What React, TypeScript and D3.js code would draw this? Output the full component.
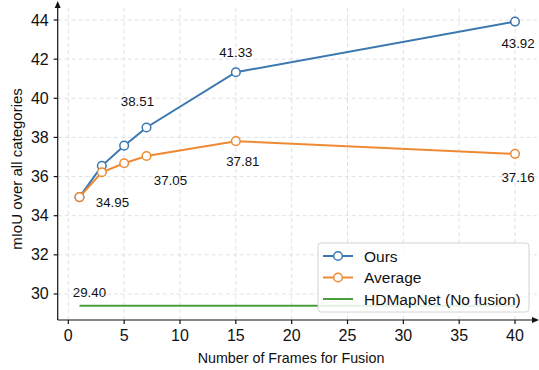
import React from 'react';
import * as d3 from 'd3';

const width = 539;
const height = 370;

// data
const frames = [1, 3, 5, 7, 15, 40];
const oursValues = [34.95, 36.55, 37.58, 38.51, 41.33, 43.92];
const averageValues = [34.95, 36.22, 36.68, 37.05, 37.81, 37.16];
const hdmapFrames = [1, 40];
const hdmapValue = 29.40;
const xTicks = [0, 5, 10, 15, 20, 25, 30, 35, 40];
const yTicks = [30, 32, 34, 36, 38, 40, 42, 44];
const seriesNames = ['Ours', 'Average', 'HDMapNet (No fusion)'];

// value labels: [x, y, dx, dy]
const annotations = [
  [15, 41.33, 0, -15],
  [7, 38.51, -9, -21],
  [7, 37.05, 24, 29],
  [15, 37.81, 7, 25],
  [1, 34.95, 33, 10],
  [1, 29.40, 10, -9],
  [40, 43.92, 3, 26],
  [40, 37.16, 3, 28],
];

const colors = ['#3b77b0', '#ee8a33', '#4a9e3c'];
const font = '"Liberation Sans", Arial, Helvetica, sans-serif';

export default function App() {
  const x = d3.scaleLinear().domain([-0.95, 41.95]).range([57.7, 536.8]);
  const y = d3.scaleLinear().domain([28.67, 44.65]).range([320, 7.3]);
  const x0 = x(-0.95);
  const y0 = y(28.67);

  const line = d3.line<[number, number]>().x(d => x(d[0])).y(d => y(d[1]));
  const ours = frames.map((f, i) => [f, oursValues[i]] as [number, number]);
  const avg = frames.map((f, i) => [f, averageValues[i]] as [number, number]);
  const hd = hdmapFrames.map(f => [f, hdmapValue] as [number, number]);

  const lg = { x: 318, y: 243, w: 211, h: 69 };

  return (
    <svg width={width} height={height} style={{ position: 'absolute', left: 0, top: 0 }} fontFamily={font}>
      <rect width={width} height={height} fill="#fff" />
      {/* grid */}
      <g stroke="#dde1e7" strokeWidth={1} strokeDasharray="4,3">
        {xTicks.map(t => (
          <line key={'gx' + t} x1={x(t)} x2={x(t)} y1={y0} y2={y(44.65)} />
        ))}
        {yTicks.map(t => (
          <line key={'gy' + t} x1={x0} x2={x(41.95)} y1={y(t)} y2={y(t)} />
        ))}
      </g>

      {/* series */}
      <path d={line(hd) || ''} fill="none" stroke={colors[2]} strokeWidth={2} />
      <path d={line(ours) || ''} fill="none" stroke={colors[0]} strokeWidth={2} />
      {ours.map((d, i) => (
        <circle key={'o' + i} cx={x(d[0])} cy={y(d[1])} r={4.3} fill="#fff" stroke={colors[0]} strokeWidth={1.5} />
      ))}
      <path d={line(avg) || ''} fill="none" stroke={colors[1]} strokeWidth={2} />
      {avg.map((d, i) => (
        <circle key={'a' + i} cx={x(d[0])} cy={y(d[1])} r={4.3} fill="#fff" stroke={colors[1]} strokeWidth={1.5} />
      ))}

      {/* value labels */}
      <g fontSize={13.3} fill="#111" textAnchor="middle">
        {annotations.map((a, i) => (
          <text key={'t' + i} x={x(a[0]) + a[2]} y={y(a[1]) + a[3]}>{a[1].toFixed(2)}</text>
        ))}
      </g>

      {/* axes */}
      <g stroke="#111" strokeWidth={1.2}>
        <line x1={x0} x2={x0} y1={y0} y2={5} />
        <line x1={x0} x2={535} y1={y0} y2={y0} />
        {xTicks.map(t => (
          <line key={'tx' + t} x1={x(t)} x2={x(t)} y1={y0} y2={y0 + 4} />
        ))}
        {yTicks.map(t => (
          <line key={'ty' + t} x1={x0 - 4} x2={x0} y1={y(t)} y2={y(t)} />
        ))}
      </g>
      <path d={`M${x0},1 L${x0 - 3},8 L${x0 + 3},8 Z`} fill="#111" />
      <path d={`M539,${y0} L532,${y0 - 3} L532,${y0 + 3} Z`} fill="#111" />

      <g fontSize={16} fill="#111">
        {xTicks.map(t => (
          <text key={'lx' + t} x={x(t)} y={y0 + 20.5} textAnchor="middle">{t}</text>
        ))}
        {yTicks.map(t => (
          <text key={'ly' + t} x={x0 - 9} y={y(t) + 5.5} textAnchor="end">{t}</text>
        ))}
      </g>

      <text x={291} y={363} fontSize={14.3} textAnchor="middle" fill="#111">Number of Frames for Fusion</text>
      <text transform={`translate(22,169) rotate(-90)`} fontSize={15} textAnchor="middle" fill="#111">mIoU over all categories</text>

      {/* legend */}
      <g>
        <rect x={lg.x} y={lg.y} width={lg.w} height={lg.h} rx={3} fill="#fff" fillOpacity={0.85} stroke="#d4d4d4" strokeWidth={1} />
        {seriesNames.map((name, i) => {
          const cy = lg.y + 13 + i * 21.5;
          return (
            <g key={name}>
              <line x1={lg.x + 5} x2={lg.x + 35} y1={cy} y2={cy} stroke={colors[i]} strokeWidth={2} />
              {i < 2 && <circle cx={lg.x + 20} cy={cy} r={4.3} fill="#fff" stroke={colors[i]} strokeWidth={1.5} />}
              <text x={lg.x + 46} y={cy + 5.5} fontSize={15.5} fill="#111">{name}</text>
            </g>
          );
        })}
      </g>
    </svg>
  );
}
